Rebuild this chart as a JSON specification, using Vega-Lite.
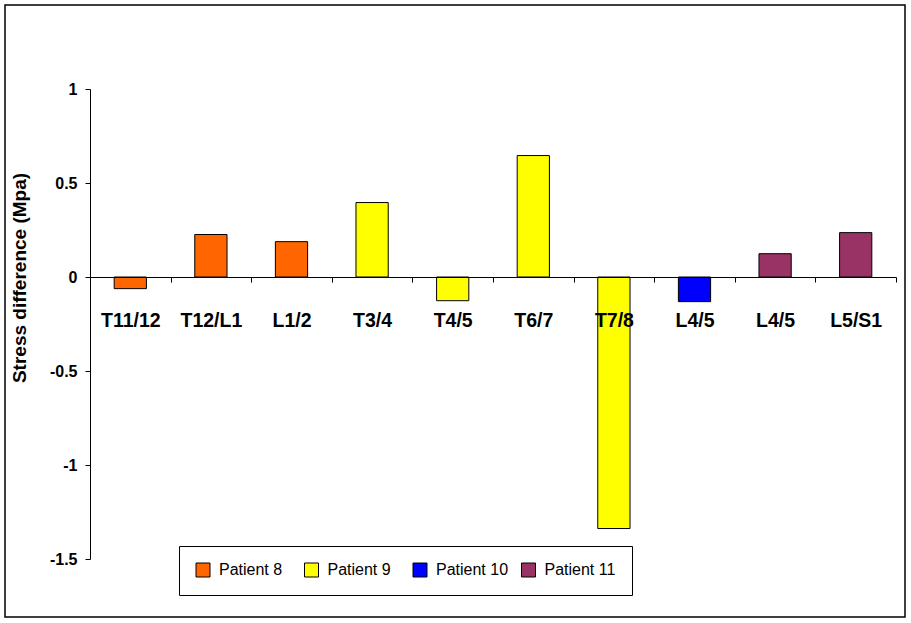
{
  "$schema": "https://vega.github.io/schema/vega-lite/v6.json",
  "width": 900,
  "height": 612,
  "autosize": {"type": "none"},
  "padding": {"left": 5, "top": 5, "right": 6, "bottom": 6},
  "background": "white",
  "config": {
    "view": {"stroke": "#000000", "strokeWidth": 1.5},
    "font": "Arial, Liberation Sans",
    "axis": {"domainColor": "#000000", "tickColor": "#000000", "labelColor": "#000000", "titleColor": "#000000", "grid": false, "domainWidth": 1, "tickWidth": 1}
  },
  "data": {
    "values": [
      {"segment": "T11/12", "patient": "Patient 8", "stress": -0.062},
      {"segment": "T12/L1", "patient": "Patient 8", "stress": 0.226},
      {"segment": "L1/2", "patient": "Patient 8", "stress": 0.188},
      {"segment": "T3/4", "patient": "Patient 9", "stress": 0.396},
      {"segment": "T4/5", "patient": "Patient 9", "stress": -0.126},
      {"segment": "T6/7", "patient": "Patient 9", "stress": 0.646},
      {"segment": "T7/8", "patient": "Patient 9", "stress": -1.338},
      {"segment": "L4/5", "patient": "Patient 10", "stress": -0.131},
      {"segment": "L4/5 ", "patient": "Patient 11", "stress": 0.124},
      {"segment": "L5/S1", "patient": "Patient 11", "stress": 0.236}
    ]
  },
  "mark": {"type": "bar", "stroke": "#000000", "strokeWidth": 1, "width": {"band": 0.4}},
  "encoding": {
    "x": {
      "field": "segment",
      "type": "nominal",
      "sort": null,
      "scale": {"range": [85, 891], "paddingInner": 0, "paddingOuter": 0},
      "axis": {
        "title": null,
        "orient": "bottom",
        "offset": -340,
        "tickBand": "extent",
        "tickSize": 5,
        "labelAngle": 0,
        "labelFontSize": 19.5,
        "labelFontWeight": "bold",
        "labelPadding": 29,
        "labelExpr": "trim(datum.label)",
        "zindex": 1
      }
    },
    "y": {
      "field": "stress",
      "type": "quantitative",
      "scale": {"domain": [-1.5, 1], "range": [554, 84], "nice": false, "zero": false},
      "axis": {
        "title": "Stress difference (Mpa)",
        "offset": -85,
        "values": [-1.5, -1, -0.5, 0, 0.5, 1],
        "tickSize": 5,
        "labelFontSize": 16,
        "labelFontWeight": "bold",
        "labelPadding": 8,
        "labelExpr": "datum.value",
        "titleFontSize": 19,
        "titleFontWeight": "bold",
        "titleAngle": -90,
        "titleAlign": "center",
        "titleBaseline": "middle",
        "titleX": -71,
        "titleY": 272.5
      }
    },
    "color": {
      "field": "patient",
      "type": "nominal",
      "scale": {
        "domain": ["Patient 8", "Patient 9", "Patient 10", "Patient 11"],
        "range": ["#FF6600", "#FFFF00", "#0000FF", "#993366"]
      },
      "legend": {
        "title": null,
        "orient": "none",
        "legendX": 174,
        "legendY": 541,
        "direction": "horizontal",
        "columns": 4,
        "gridAlign": "all",
        "columnPadding": 10.5,
        "padding": 16,
        "strokeColor": "#000000",
        "fillColor": "#FFFFFF",
        "symbolType": "square",
        "symbolSize": 196,
        "symbolStrokeColor": "#000000",
        "symbolStrokeWidth": 1,
        "symbolOpacity": 1,
        "labelFontSize": 16,
        "labelColor": "#000000",
        "labelOffset": 8
      }
    }
  }
}
